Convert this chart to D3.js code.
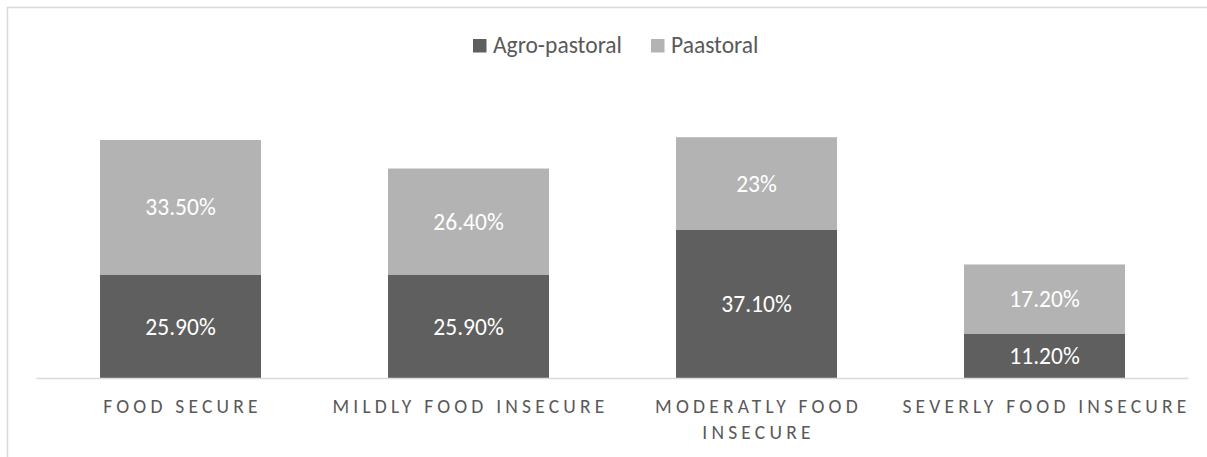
<!DOCTYPE html>
<html lang="en">

<head>
    <meta charset="UTF-8">
    <title>Food security by livelihood</title>
    <script src="https://d3js.org/d3.v7.min.js"></script>
    <style>
        body { margin: 0; background: #fff; }
        svg text { font-family: Carlito, Calibri, Lato, sans-serif; }
    </style>
</head>

<body>
    <svg id="chart" width="1207" height="457"></svg>

    <script>
        (function () {
            const categories = ['FOOD SECURE', 'MILDLY FOOD INSECURE', 'MODERATLY FOOD INSECURE', 'SEVERLY FOOD INSECURE'];
            const seriesNames = ['Agro-pastoral', 'Paastoral'];
            const agroValues = [25.9, 25.9, 37.1, 11.2];
            const pastoralValues = [33.5, 26.4, 23, 17.2];
            const agroLabels = ['25.90%', '25.90%', '37.10%', '11.20%'];
            const pastoralLabels = ['33.50%', '26.40%', '23%', '17.20%'];
            const colors = ['#5f5f5f', '#b3b3b3'];

            const svg = d3.select('#chart');

            // chart area border (runs off the right/bottom edge)
            svg.append('rect')
                .attr('x', 7.5).attr('y', 7.5)
                .attr('width', 1230).attr('height', 480)
                .attr('fill', 'none')
                .attr('stroke', '#d9d9d9')
                .attr('stroke-width', 1.5);

            const plot = { left: 36.5, right: 1188.5, bottom: 378.5 };

            const x = d3.scaleBand()
                .domain(categories)
                .range([plot.left, plot.right])
                .paddingInner(127 / 288)
                .paddingOuter(127 / 288 / 2);

            const y = d3.scaleLinear()
                .domain([0, 70])
                .range([plot.bottom, plot.bottom - 70 * 4.015]);

            const rows = categories.map((c, i) => ({
                cat: c,
                'Agro-pastoral': agroValues[i],
                'Paastoral': pastoralValues[i],
                labels: [agroLabels[i], pastoralLabels[i]]
            }));

            const stacked = d3.stack().keys(seriesNames)(rows);

            const g = svg.append('g');

            stacked.forEach((layer, si) => {
                const grp = g.append('g');
                grp.selectAll('rect')
                    .data(layer)
                    .enter()
                    .append('rect')
                    .attr('x', d => x(d.data.cat))
                    .attr('width', x.bandwidth())
                    .attr('y', d => y(d[1]))
                    .attr('height', d => y(d[0]) - y(d[1]))
                    .attr('fill', colors[si]);

                grp.selectAll('text')
                    .data(layer)
                    .enter()
                    .append('text')
                    .attr('x', d => x(d.data.cat) + x.bandwidth() / 2)
                    .attr('y', d => (y(d[0]) + y(d[1])) / 2)
                    .attr('dy', '0.35em')
                    .attr('text-anchor', 'middle')
                    .attr('font-size', 23.5)
                    .attr('fill', '#ffffff')
                    .text(d => d.data.labels[si]);
            });

            // baseline
            svg.append('line')
                .attr('x1', plot.left).attr('x2', plot.right)
                .attr('y1', plot.bottom).attr('y2', plot.bottom)
                .attr('stroke', '#d9d9d9')
                .attr('stroke-width', 1.5);

            // category labels, wrapped like excel does
            const wrapped = {
                'MODERATLY FOOD INSECURE': ['MODERATLY FOOD', 'INSECURE']
            };
            const catText = svg.append('g').selectAll('text')
                .data(categories)
                .enter()
                .append('text')
                .attr('x', d => x(d) + x.bandwidth() / 2)
                .attr('y', 413)
                .attr('text-anchor', 'middle')
                .attr('font-size', 19.5)
                .attr('letter-spacing', 4.2)
                .attr('fill', '#595959');

            catText.each(function (d) {
                const lines = wrapped[d] || [d];
                const t = d3.select(this);
                lines.forEach((ln, i) => {
                    t.append('tspan')
                        .attr('x', x(d) + x.bandwidth() / 2 + 2)
                        .attr('dy', i === 0 ? 0 : 26)
                        .text(ln);
                });
            });

            // legend
            const legendX = [473, 651];
            const legend = svg.append('g').selectAll('g')
                .data(seriesNames)
                .enter()
                .append('g')
                .attr('transform', (d, i) => `translate(${legendX[i]}, 39)`);

            legend.append('rect')
                .attr('width', 13.5).attr('height', 13.5)
                .attr('fill', (d, i) => colors[i]);

            legend.append('text')
                .attr('x', 20)
                .attr('y', 13.5)
                .attr('font-size', 23.5)
                .attr('fill', '#595959')
                .text(d => d);
        })();
    </script>
</body>

</html>
